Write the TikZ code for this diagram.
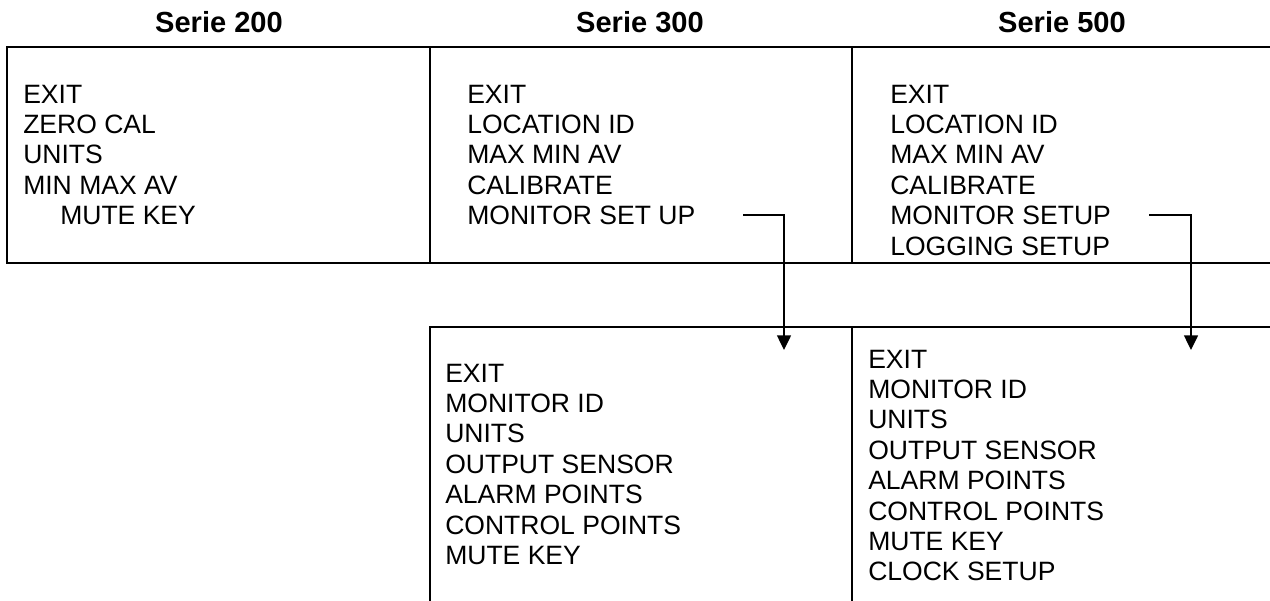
\documentclass[tikz,border=0pt]{standalone}
\usepackage{fontspec}
\setmainfont{Liberation Sans}
\usetikzlibrary{arrows.meta,fit}
\begin{document}
\begin{tikzpicture}[x=0.75pt,y=-0.75pt,
  cell/.style={draw=black,line width=1.7pt,inner sep=0pt,rectangle},
  item/.style={anchor=base west,inner sep=0pt,font=\fontsize{19.9}{22}\selectfont},
  title/.style={anchor=base,inner sep=0pt,font=\fontsize{21.8}{24}\selectfont\bfseries},
  link/.style={draw=black,line width=1pt,-{Triangle[length=11pt,width=10.5pt]}}]
\useasboundingbox (0,0) rectangle (1270,600);
\clip (0,0) rectangle (1270,600);
% titles
\node[title] (t200) at (219,32) {Serie 200};
\node[title] (t300) at (640,32) {Serie 300};
\node[title] (t500) at (1062,32) {Serie 500};
% table cells
\node[cell,fit={(7,47) (430,263)}] (c200) {};
\node[cell,fit={(430,47) (852,263)}] (c300) {};
\node[cell,fit={(852,47) (1280,263)}] (c500) {};
\node[cell,fit={(430,327) (852,620)}] (d300) {};
\node[cell,fit={(852,327) (1280,620)}] (d500) {};
% Serie 200
\node[item] (a1) at (23,103) {EXIT};
\node[item] (a2) at (23,133.4) {ZERO CAL};
\node[item] (a3) at (23,163.8) {UNITS};
\node[item] (a4) at (23,194.2) {MIN MAX AV};
\node[item] (a5) at (60,224.6) {MUTE KEY};
% Serie 300
\foreach \t [count=\i] in {EXIT,LOCATION ID,MAX MIN AV,CALIBRATE,MONITOR SET UP}
  \node[item] (b\i) at (467,{103+30.4*(\i-1)}) {\t};
% Serie 500
\foreach \t [count=\i] in {EXIT,LOCATION ID,MAX MIN AV,CALIBRATE,MONITOR SETUP,LOGGING SETUP}
  \node[item] (e\i) at (890,{103+30.4*(\i-1)}) {\t};
% Serie 300 monitor setup
\foreach \t [count=\i] in {EXIT,MONITOR ID,UNITS,OUTPUT SENSOR,ALARM POINTS,CONTROL POINTS,MUTE KEY}
  \node[item] (m\i) at (445,{382+30.4*(\i-1)}) {\t};
% Serie 500 monitor setup
\foreach \t [count=\i] in {EXIT,MONITOR ID,UNITS,OUTPUT SENSOR,ALARM POINTS,CONTROL POINTS,MUTE KEY,CLOCK SETUP}
  \node[item] (n\i) at (868,{368+30.4*(\i-1)}) {\t};
% connectors
\coordinate (s3) at (743,215);
\coordinate (f3) at (784,350);
\coordinate (s5) at (1149,215);
\coordinate (f5) at (1191,350);
\draw[link] (s3) -| (f3);
\draw[link] (s5) -| (f5);
\end{tikzpicture}
\end{document}
